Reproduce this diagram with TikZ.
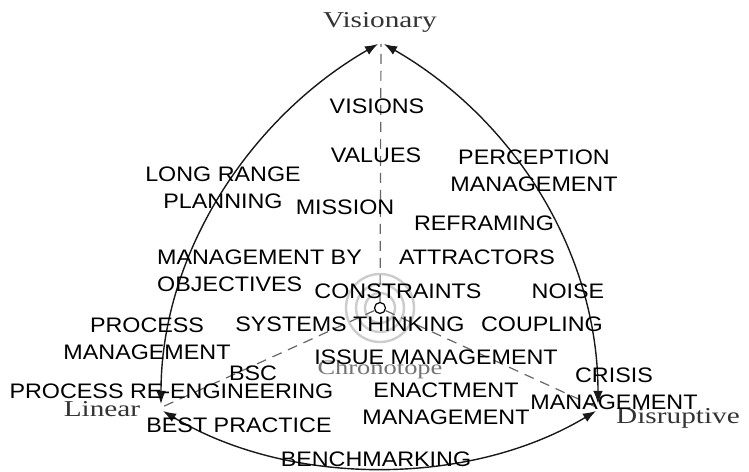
\documentclass[tikz,border=0pt]{standalone}
\usepackage{fontspec}
\usetikzlibrary{arrows.meta}
\newfontfamily\capsfont[FakeStretch=1.11]{Liberation Sans}
\newfontfamily\polefont[FakeStretch=1.29]{Liberation Serif}

\begin{document}
\begin{tikzpicture}[x=1pt,y=1pt,
  term/.style={font=\capsfont\fontsize{21}{27}\selectfont, inner sep=0pt, align=center, text=black},
  pole/.style={font=\polefont\fontsize{22.7}{27}\selectfont, inner sep=0pt, anchor=base, text=black!80},
  arcline/.style={line width=1.4pt, draw=black!90, {Latex[length=13pt,width=9.5pt]}-{Latex[length=13pt,width=9.5pt]}},
  axisline/.style={draw=black!60, line width=1.2pt, dash pattern=on 10pt off 7pt},
  ring/.style={draw=black!20, line width=2.4pt}]
\useasboundingbox (0,0) rectangle (749,471);

% corners of the curved triangle
\coordinate (V) at (381,427);
\coordinate (L) at (160,63);
\coordinate (D) at (598,63);
\coordinate (vl) at (378,427);
\coordinate (vr) at (384,427);
\coordinate (lt) at (161,67);
\coordinate (lb) at (163,60);
\coordinate (dt) at (598,67);
\coordinate (db) at (596,60);

% concentric rings round the hub
\draw[ring] (380,163) circle (34pt);
\draw[ring] (380,163) circle (24pt);
\draw[ring] (380,163) circle (15pt);
\node[pole, text=black!55, font=\polefont\fontsize{20.5}{24}\selectfont] (chrono) at (380,96) {Chronotope};

\node[draw, circle, minimum size=11pt, inner sep=0pt, line width=1.2pt] (hub) at (380,163) {};

% dashed axes
\draw[axisline] (hub) -- (V);
\draw[axisline] (hub) -- (L);
\draw[axisline] (hub) -- (D);

% curved sides
\draw[arcline] (vl) to[out=210,in=90,looseness=0.91] (lt);
\draw[arcline] (vr) to[out=-30,in=90,looseness=0.92] (dt);
\draw[arcline] (lb) to[out=-31,in=211,looseness=0.875] (db);

% pole labels
\node[pole] (visionary) at (380,443) {Visionary};
\node[pole] (linear) at (102,54) {Linear};
\node[pole] (disruptive) at (678,48) {Disruptive};

% terms
\node[term] (visions) at (377,365) {VISIONS};
\node[term] (values) at (376,316) {VALUES};
\node[term] (perception) at (534,300.5) {PERCEPTION\\MANAGEMENT};
\node[term] (longrange) at (223,283.5) {LONG RANGE\\PLANNING};
\node[term] (mission) at (345,264) {MISSION};
\node[term] (reframing) at (484,248) {REFRAMING};
\node[term, align=left, anchor=west] (mbo) at (157,200) {MANAGEMENT BY\\OBJECTIVES};
\node[term] (attractors) at (477,214) {ATTRACTORS};
\node[term] (constraints) at (398,180) {CONSTRAINTS};
\node[term] (noise) at (568,180) {NOISE};
\node[term] (procman) at (147,132.5) {PROCESS\\MANAGEMENT};
\node[term] (systems) at (350,147) {SYSTEMS THINKING};
\node[term] (coupling) at (542,147) {COUPLING};
\node[term] (issue) at (436,114) {ISSUE MANAGEMENT};
\node[term] (bsc) at (253,98) {BSC};
\node[term] (reeng) at (171.5,80) {PROCESS RE-ENGINEERING};
\node[term] (crisis) at (614,82.5) {CRISIS\\MANAGEMENT};
\node[term] (enact) at (446,67) {ENACTMENT\\MANAGEMENT};
\node[term] (best) at (239,46) {BEST PRACTICE};
\node[term] (bench) at (376,12) {BENCHMARKING};
\end{tikzpicture}
\end{document}
